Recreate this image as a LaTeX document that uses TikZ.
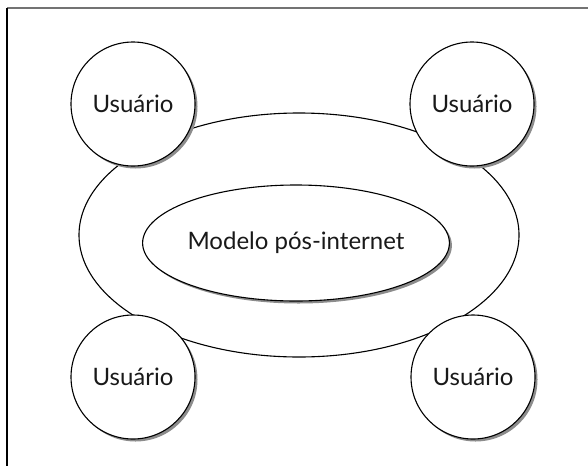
\documentclass[tikz,border=0pt]{standalone}
\usepackage{fontspec}
\setmainfont{Lato}
\usepackage{tikz}
\usetikzlibrary{shapes, shadows}
\tikzstyle{usuario} = [draw=black, fill=white, circle, line width=1.1pt, minimum size=124pt, inner sep=0pt, drop shadow={shadow xshift=2.5pt, shadow yshift=-2.5pt, fill=black!45, opacity=1}]
\tikzstyle{modelo} = [draw=black, fill=white, ellipse, line width=1.1pt, minimum width=262pt, minimum height=116pt, inner sep=0pt, drop shadow={shadow xshift=2.5pt, shadow yshift=-2.5pt, fill=black!45, opacity=1}]
\tikzstyle{rede} = [draw=black, ellipse, line width=1.1pt, minimum width=440pt, minimum height=244pt, inner sep=0pt]
\tikzstyle{rotulo} = [font=\fontsize{24}{28}\selectfont, text=black!90]

\begin{document}
\begin{tikzpicture}[x=1pt, y=-1pt]
	\useasboundingbox (0,0) rectangle (588,466);
	\draw[black!55, line width=1.6pt] (7,8) -- (588,8);
	\draw[black, line width=1.6pt] (7,8) -- (7,466);
	\node [rede] (externo) at (299,235) {};
	\node [modelo, rotulo] (modelo) at (296,243) {Modelo pós-internet};
	\node [usuario, rotulo] (usuarioA) at (133,104) {Usuário};
	\node [usuario, rotulo] (usuarioB) at (472,104) {Usuário};
	\node [usuario, rotulo] (usuarioC) at (133,377) {Usuário};
	\node [usuario, rotulo] (usuarioD) at (473,377) {Usuário};
\end{tikzpicture}
\end{document}
